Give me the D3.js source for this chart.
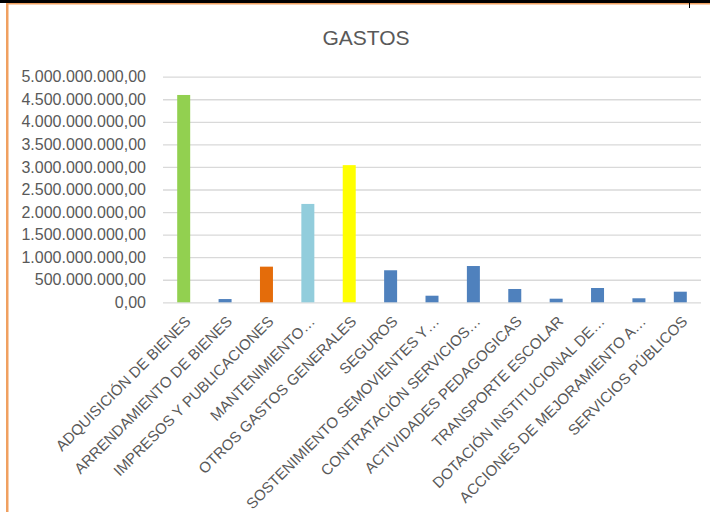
<!DOCTYPE html>
<html>
<head>
<meta charset="utf-8">
<script src="https://cdn.jsdelivr.net/npm/d3@7"></script>
<style>
  html, body { margin: 0; padding: 0; background: #fff; }
  svg { display: block; }
</style>
</head>
<body>
<script>
const categories = [
  "ADQUISICIÓN DE BIENES",
  "ARRENDAMIENTO DE BIENES",
  "IMPRESOS Y PUBLICACIONES",
  "MANTENIMIENTO…",
  "OTROS GASTOS GENERALES",
  "SEGUROS",
  "SOSTENIMIENTO SEMOVIENTES Y…",
  "CONTRATACIÓN SERVICIOS…",
  "ACTIVIDADES PEDAGOGICAS",
  "TRANSPORTE ESCOLAR",
  "DOTACIÓN INSTITUCIONAL DE…",
  "ACCIONES DE MEJORAMIENTO A…",
  "SERVICIOS PÚBLICOS"
];
const values = [
  4595000000, 72000000, 790000000, 2180000000, 3040000000, 710000000,
  146000000, 804000000, 295000000, 80000000, 317000000, 89000000, 235000000
];
const barColors = [
  "#92D050", "#4F81BD", "#E46C0A", "#92CDDC", "#FFFF00", "#4F81BD",
  "#4F81BD", "#4F81BD", "#4F81BD", "#4F81BD", "#4F81BD", "#4F81BD", "#4F81BD"
];
const yTicks = [0, 500000000, 1000000000, 1500000000, 2000000000, 2500000000,
  3000000000, 3500000000, 4000000000, 4500000000, 5000000000];
const title = "GASTOS";

const W = 710, H = 512;
const svg = d3.select("body").append("svg").attr("width", W).attr("height", H);

// frame lines
svg.append("rect").attr("x", 0).attr("y", 0).attr("width", W).attr("height", 3).attr("fill", "#000");
svg.append("rect").attr("x", 6).attr("y", 3).attr("width", W - 6).attr("height", 1.5).attr("fill", "#F0A060");
svg.append("rect").attr("x", 6).attr("y", 3).attr("width", 2.5).attr("height", H - 3).attr("fill", "#F0A060");
svg.append("rect").attr("x", 689).attr("y", 3).attr("width", 1).attr("height", 5).attr("fill", "#000");

const font = "'Liberation Sans', Arial, sans-serif";
const textColor = "#595959";

svg.append("text")
  .attr("x", 366).attr("y", 45)
  .attr("text-anchor", "middle")
  .attr("font-family", font).attr("font-size", 21)
  .attr("fill", textColor)
  .text(title);

const plot = { left: 163, right: 701, top: 76.7, bottom: 302.3 };

const x = d3.scaleBand().domain(categories).range([plot.left, plot.right]).paddingInner(0.686).paddingOuter(0.343);
const y = d3.scaleLinear().domain([0, 5000000000]).range([plot.bottom, plot.top]);

const fmt = v => {
  const s = d3.format(",.2f")(v);
  return s.replace(/,/g, "#").replace(/\./g, ",").replace(/#/g, ".");
};

// gridlines
const yAxis = d3.axisLeft(y).tickValues(yTicks).tickSize(-(plot.right - plot.left)).tickFormat(fmt).tickPadding(17);
const gy = svg.append("g").attr("transform", `translate(${plot.left},0)`).call(yAxis);
gy.select(".domain").remove();
gy.selectAll(".tick line").attr("stroke", "#D9D9D9").attr("stroke-width", 1.3);
gy.selectAll(".tick text").attr("font-family", font).attr("font-size", 16).attr("fill", textColor);

// bars
svg.append("g").selectAll("rect").data(categories).join("rect")
  .attr("x", d => x(d))
  .attr("width", x.bandwidth())
  .attr("y", (d, i) => y(values[i]))
  .attr("height", (d, i) => y(0) - y(values[i]))
  .attr("fill", (d, i) => barColors[i]);

// x axis labels
const xAxis = d3.axisBottom(x).tickSize(0).tickPadding(0);
const gx = svg.append("g").attr("transform", `translate(0,${plot.bottom})`).call(xAxis);
gx.select(".domain").remove();
gx.selectAll(".tick text")
  .attr("font-family", font).attr("font-size", 15).attr("fill", textColor)
  .attr("text-anchor", "end")
  .attr("dy", null).attr("y", null)
  .attr("transform", "translate(8,20) rotate(-45)");
</script>
</body>
</html>
